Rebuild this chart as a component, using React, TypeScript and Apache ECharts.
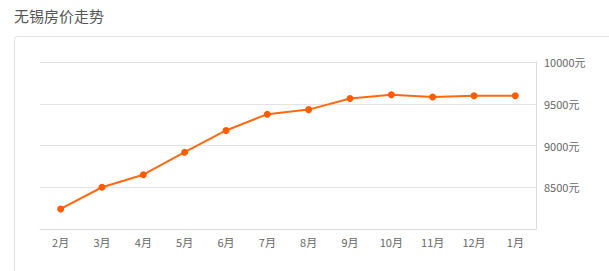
import React, { useEffect, useRef } from "react";
import * as echarts from "echarts";

const titleText = "无锡房价走势";
const months = ["2月", "3月", "4月", "5月", "6月", "7月", "8月", "9月", "10月", "11月", "12月", "1月"];
const prices = [8240, 8500, 8650, 8920, 9180, 9375, 9430, 9563, 9608, 9580, 9595, 9595];
const yMin = 8000;
const yMax = 10000;
const yStep = 500;
const unit = "元";

export default function App() {
  const ref = useRef<HTMLDivElement>(null);
  useEffect(() => {
    if (!ref.current) return;
    const chart = echarts.init(ref.current, null, { renderer: "svg" });
    chart.setOption({
      animation: false,
      backgroundColor: "#ffffff",
      title: {
        text: titleText,
        left: 9,
        top: 3,
        textStyle: { fontSize: 15, fontWeight: "normal", color: "#555", fontFamily: "Noto Sans CJK SC" },
      },
      graphic: [
        {
          type: "rect",
          shape: { x: 14.5, y: 36.5, width: 700, height: 300, r: 3 },
          style: { fill: "none", stroke: "#e2e2e2", lineWidth: 1 },
          silent: true,
        },
      ],
      grid: { left: 40, right: 73, top: 62, bottom: 42 },
      xAxis: {
        type: "category",
        data: months,
        boundaryGap: true,
        axisLine: { lineStyle: { color: "#dcdcdc" } },
        axisTick: { alignWithLabel: true, length: 4, lineStyle: { color: "#dcdcdc" } },
        axisLabel: { color: "#666", fontSize: 11, margin: 7, fontFamily: "Noto Sans CJK SC" },
      },
      yAxis: {
        type: "value",
        position: "right",
        min: yMin,
        max: yMax,
        interval: yStep,
        axisLine: { show: true, lineStyle: { color: "#dcdcdc" } },
        axisTick: { show: false },
        splitLine: { lineStyle: { color: "#e3e3e3" } },
        axisLabel: {
          color: "#666",
          fontSize: 11,
          margin: 8,
          showMinLabel: false,
          formatter: (v: number) => v + unit,
          fontFamily: "Noto Sans CJK SC",
        },
      },
      series: [
        {
          type: "line",
          data: prices,
          symbol: "circle",
          symbolSize: 7,
          itemStyle: { color: "#ff5c00" },
          lineStyle: { color: "#ff6a10", width: 2 },
        },
      ],
    });
    return () => chart.dispose();
  }, []);
  return (
    <div
      ref={ref}
      style={{ position: "absolute", left: 0, top: 0, width: 609, height: 271 }}
    />
  );
}
